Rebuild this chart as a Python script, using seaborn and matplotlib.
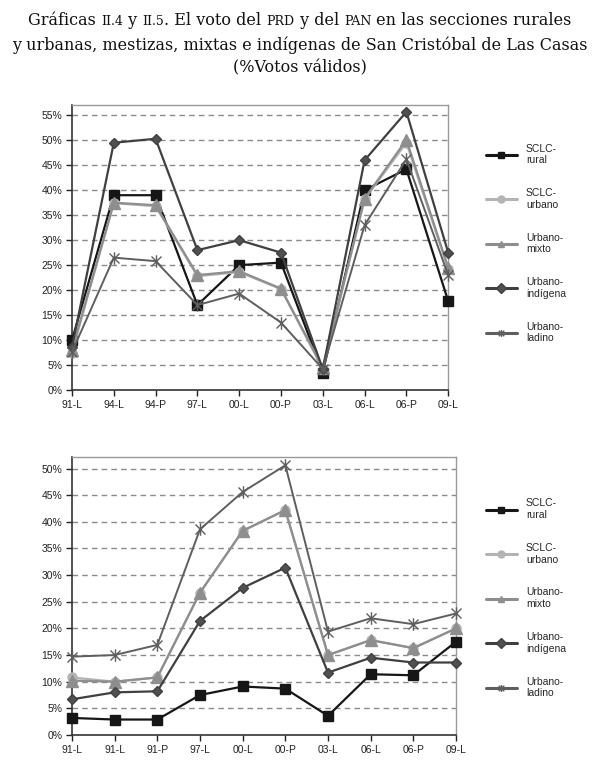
import numpy as np
import pandas as pd
import matplotlib
matplotlib.use('Agg')
import matplotlib.pyplot as plt
from matplotlib.lines import Line2D
from matplotlib.path import Path
from matplotlib.ticker import PercentFormatter
import seaborn as sns

# ---- data (% votos válidos) ----
cats_top = ['91-L', '94-L', '94-P', '97-L', '00-L', '00-P', '03-L', '06-L', '06-P', '09-L']
cats_bot = ['91-L', '91-L', '91-P', '97-L', '00-L', '00-P', '03-L', '06-L', '06-P', '09-L']
series = ['SCLC-\nrural', 'SCLC-\nurbano', 'Urbano-\nmixto', 'Urbano-\nindígena', 'Urbano-\nladino']

prd_rural    = [10.0, 39.0, 39.0, 17.0, 25.0, 25.5, 3.5, 40.0, 44.2, 17.8]
prd_urbano   = [7.5, 37.4, 36.8, 22.8, 23.6, 20.2, 4.2, 38.2, 49.5, 24.2]
prd_mixto    = [8.0, 37.5, 37.0, 23.0, 23.8, 20.3, 4.5, 38.3, 50.1, 24.5]
prd_indigena = [8.6, 49.5, 50.3, 28.0, 30.0, 27.5, 4.2, 46.0, 55.7, 27.5]
prd_ladino   = [7.6, 26.5, 25.8, 17.0, 19.3, 13.5, 4.2, 33.0, 46.2, 23.0]

pan_rural    = [3.2, 2.9, 2.9, 7.5, 9.1, 8.7, 3.6, 11.4, 11.2, 17.5]
pan_urbano   = [10.8, 10.0, 10.8, 26.7, 38.3, 42.2, 15.0, 17.8, 16.3, 20.0]
pan_mixto    = [10.2, 10.0, 10.8, 26.7, 38.3, 42.2, 15.0, 17.8, 16.3, 20.0]
pan_indigena = [6.7, 8.0, 8.2, 21.4, 27.6, 31.4, 11.7, 14.5, 13.6, 13.6]
pan_ladino   = [14.7, 15.0, 16.9, 38.6, 45.6, 50.6, 19.4, 21.9, 20.8, 22.8]

# star marker (x with vertical bar), like the spreadsheet one
star = Path([(-1, -1), (1, 1), (-1, 1), (1, -1), (0, -1.25), (0, 1.25)],
            [Path.MOVETO, Path.LINETO, Path.MOVETO, Path.LINETO, Path.MOVETO, Path.LINETO])

STYLE = {
    'SCLC-\nrural':      dict(color='#161616', marker='s', ms=7.5, mfc='#161616', lw=1.6),
    'SCLC-\nurbano':     dict(color='#b4b4b4', marker='o', ms=6.5, mfc='#b4b4b4', lw=1.6),
    'Urbano-\nmixto':    dict(color='#8e8e8e', marker='^', ms=8.5, mfc='#8e8e8e', lw=1.6),
    'Urbano-\nindígena': dict(color='#404040', marker='D', ms=5.5, mfc='#505050', lw=1.6),
    'Urbano-\nladino':   dict(color='#5e5e5e', marker=star, ms=9, mfc='none', lw=1.4),
}

sns.set_style('white')
plt.rcParams['font.family'] = ['Liberation Sans', 'DejaVu Sans']

fig = plt.figure(figsize=(6, 7.8), dpi=100, facecolor='white')


def draw(ax, cats, vals, ymax, ytop, legend_y):
    x = np.arange(len(cats))
    df = pd.DataFrame({'x': np.tile(x, len(series)),
                       'valor': np.concatenate(vals),
                       'serie': np.repeat(series, len(cats))})
    for s in series:
        st = STYLE[s]
        sub = df[df['serie'] == s]
        sns.lineplot(data=sub, x='x', y='valor', ax=ax, color=st['color'],
                     marker=st['marker'], markersize=st['ms'], markerfacecolor=st['mfc'],
                     markeredgecolor=st['color'], markeredgewidth=1.0,
                     linewidth=st['lw'], clip_on=False, zorder=3)
    ax.set_xlim(0, len(cats) - 1)
    ax.set_ylim(0, ytop)
    ax.set_yticks(np.arange(0, ymax + 0.1, 5))
    ax.yaxis.set_major_formatter(PercentFormatter(decimals=0))
    ax.set_xticks(x)
    ax.set_xticklabels(cats)
    ax.set_xlabel('')
    ax.set_ylabel('')
    for yv in np.arange(5, ymax + 0.1, 5):
        ax.axhline(yv, color='#8a8a8a', lw=1.0, ls=(0, (4, 3)), zorder=1)
    ax.tick_params(axis='both', direction='out', length=4, width=1, labelsize=7.5,
                   colors='#222222', left=True, bottom=True, pad=3)
    for sp in ['left', 'bottom']:
        ax.spines[sp].set_color('#333333')
        ax.spines[sp].set_linewidth(1.2)
    for sp in ['top', 'right']:
        ax.spines[sp].set_color('#9a9a9a')
        ax.spines[sp].set_linewidth(1.0)
    handles = [Line2D([], [], color=STYLE[s]['color'], lw=2.2, marker=STYLE[s]['marker'],
                      ms=5, mfc=STYLE[s]['mfc'], mec=STYLE[s]['color'])
               for s in series]
    fig.legend(handles, series, loc='upper left', bbox_to_anchor=(0.795, legend_y),
               frameon=False, fontsize=7.5, labelspacing=2.2, handlelength=2.9,
               handletextpad=0.9)


ax1 = fig.add_axes([0.12, 0.5, 0.627, 0.365])
draw(ax1, cats_top, [prd_rural, prd_urbano, prd_mixto, prd_indigena, prd_ladino], 55, 57, 0.828)

ax2 = fig.add_axes([0.12, 0.0577, 0.64, 0.356])
draw(ax2, cats_bot, [pan_rural, pan_urbano, pan_mixto, pan_indigena, pan_ladino], 50, 52.1, 0.373)

# ---- title with small caps pieces ----
renderer = fig.canvas.get_renderer()
serif = ['DejaVu Serif']
big, small = 11.5, 9.0


def rich_line(pieces, y):
    texts = []
    widths = []
    for txt, sz in pieces:
        t = fig.text(0, y, txt, fontsize=sz, family=serif, va='baseline', ha='left', color='#111111')
        texts.append(t)
        widths.append(t.get_window_extent(renderer).width)
    total = sum(widths)
    x0 = (fig.bbox.width - total) / 2
    for t, w in zip(texts, widths):
        t.set_x(x0 / fig.bbox.width)
        x0 += w


rich_line([('Gráficas ', big), ('II.4', small), (' y ', big), ('II.5', small),
           ('. El voto del ', big), ('PRD', small), (' y del ', big), ('PAN', small),
           (' en las secciones rurales', big)], 0.968)
rich_line([('y urbanas, mestizas, mixtas e indígenas de San Cristóbal de Las Casas', big)], 0.936)
rich_line([('(%Votos válidos)', big)], 0.907)

fig.savefig('out.png', dpi=100, facecolor='white')
